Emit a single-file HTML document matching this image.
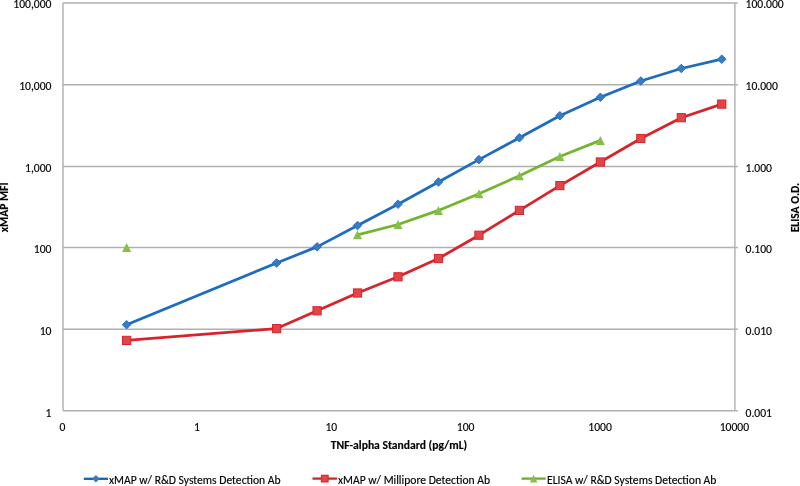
<!DOCTYPE html><html><head><meta charset="utf-8"><style>html,body{margin:0;padding:0;background:#fff}svg{display:block}text{font-family:Carlito,"Liberation Sans",sans-serif;fill:#000;stroke:#000;stroke-width:0.15px}</style></head><body>
<svg width="800" height="486" viewBox="0 0 800 486">
<rect width="800" height="486" fill="#fff"/>
<path d="M63 3.1H737.8M63 84.65H737.8M63 166.45H737.8M63 247.55H737.8M63 329.35H737.8M63 410.85H737.8" stroke="#b0b0b0" stroke-width="1.5" fill="none"/>
<path d="M63 3.1V410.85M734.9 3.1V410.85" stroke="#b0b0b0" stroke-width="1.4" fill="none"/>
<text x="51.5" y="417.15" font-size="11.6" text-anchor="end" textLength="5.89" lengthAdjust="spacingAndGlyphs">1</text>
<text x="745.5" y="417.15" font-size="11.6" textLength="26.44" lengthAdjust="spacingAndGlyphs">0.001</text>
<text x="51.5" y="335.28" font-size="11.6" text-anchor="end" textLength="11.77" lengthAdjust="spacingAndGlyphs">10</text>
<text x="745.5" y="335.28" font-size="11.6" textLength="26.44" lengthAdjust="spacingAndGlyphs">0.010</text>
<text x="51.5" y="253.41" font-size="11.6" text-anchor="end" textLength="17.64" lengthAdjust="spacingAndGlyphs">100</text>
<text x="745.5" y="253.41" font-size="11.6" textLength="26.44" lengthAdjust="spacingAndGlyphs">0.100</text>
<text x="51.5" y="171.54" font-size="11.6" text-anchor="end" textLength="26.41" lengthAdjust="spacingAndGlyphs">1,000</text>
<text x="745.5" y="171.54" font-size="11.6" textLength="26.44" lengthAdjust="spacingAndGlyphs">1.000</text>
<text x="51.5" y="89.67" font-size="11.6" text-anchor="end" textLength="32.28" lengthAdjust="spacingAndGlyphs">10,000</text>
<text x="745.5" y="89.67" font-size="11.6" textLength="32.31" lengthAdjust="spacingAndGlyphs">10.000</text>
<text x="51.5" y="7.8" font-size="11.6" text-anchor="end" textLength="38.16" lengthAdjust="spacingAndGlyphs">100,000</text>
<text x="745.5" y="7.8" font-size="11.6" textLength="38.19" lengthAdjust="spacingAndGlyphs">100.000</text>
<text x="62.5" y="430.7" font-size="11.6" text-anchor="middle" textLength="5.89" lengthAdjust="spacingAndGlyphs">0</text>
<text x="196.88" y="430.7" font-size="11.6" text-anchor="middle" textLength="5.89" lengthAdjust="spacingAndGlyphs">1</text>
<text x="331.26" y="430.7" font-size="11.6" text-anchor="middle" textLength="11.77" lengthAdjust="spacingAndGlyphs">10</text>
<text x="465.64" y="430.7" font-size="11.6" text-anchor="middle" textLength="17.64" lengthAdjust="spacingAndGlyphs">100</text>
<text x="600.02" y="430.7" font-size="11.6" text-anchor="middle" textLength="23.52" lengthAdjust="spacingAndGlyphs">1000</text>
<text x="734.4" y="430.7" font-size="11.6" text-anchor="middle" textLength="29.39" lengthAdjust="spacingAndGlyphs">10000</text>
<text x="399" y="448.7" font-size="11.6" font-weight="bold" text-anchor="middle" textLength="136.31" lengthAdjust="spacingAndGlyphs">TNF-alpha Standard (pg/mL)</text>
<text transform="translate(7.7 207.35) rotate(-90)" font-size="11.6" font-weight="bold" text-anchor="middle" textLength="49.83" lengthAdjust="spacingAndGlyphs">xMAP MFI</text>
<text transform="translate(799 207.6) rotate(-90)" font-size="11.6" font-weight="bold" text-anchor="middle" textLength="49.56" lengthAdjust="spacingAndGlyphs">ELISA O.D.</text>
<polyline points="357.53,234.8 398,224.5 438.47,210.4 478.94,193.7 519.41,175.8 559.88,156.5 600.35,140.4" fill="none" stroke="#74b42e" stroke-width="2.75" stroke-linejoin="round" stroke-linecap="round"/>
<polyline points="126.6,340.4 276.59,328.6 317.06,310.8 357.53,293 398,276.8 438.47,258.5 478.94,235.2 519.41,210.4 559.88,185.6 600.35,162 640.82,138.5 681.29,117.7 721.76,104.1" fill="none" stroke="#d9232a" stroke-width="2.75" stroke-linejoin="round" stroke-linecap="round"/>
<polyline points="126.6,324.7 276.59,263 317.06,246.85 357.53,225.5 398,204.2 438.47,182 478.94,159.6 519.41,137.8 559.88,115.7 600.35,97.3 640.82,81 681.29,68.5 721.76,59.2" fill="none" stroke="#1d6cbf" stroke-width="2.75" stroke-linejoin="round" stroke-linecap="round"/>
<path d="M357.53 230.3L362.03 239.3L353.03 239.3Z" fill="#86bf4a"/>
<path d="M398 220L402.5 229L393.5 229Z" fill="#86bf4a"/>
<path d="M438.47 205.9L442.97 214.9L433.97 214.9Z" fill="#86bf4a"/>
<path d="M478.94 189.2L483.44 198.2L474.44 198.2Z" fill="#86bf4a"/>
<path d="M519.41 171.3L523.91 180.3L514.91 180.3Z" fill="#86bf4a"/>
<path d="M559.88 152L564.38 161L555.38 161Z" fill="#86bf4a"/>
<path d="M600.35 135.9L604.85 144.9L595.85 144.9Z" fill="#86bf4a"/>
<path d="M126.6 243.1L131.1 252.1L122.1 252.1Z" fill="#86bf4a"/>
<rect x="122.5" y="336.3" width="8.2" height="8.2" fill="#e04548" stroke="#d9232a" stroke-width="1"/>
<rect x="272.49" y="324.5" width="8.2" height="8.2" fill="#e04548" stroke="#d9232a" stroke-width="1"/>
<rect x="312.96" y="306.7" width="8.2" height="8.2" fill="#e04548" stroke="#d9232a" stroke-width="1"/>
<rect x="353.43" y="288.9" width="8.2" height="8.2" fill="#e04548" stroke="#d9232a" stroke-width="1"/>
<rect x="393.9" y="272.7" width="8.2" height="8.2" fill="#e04548" stroke="#d9232a" stroke-width="1"/>
<rect x="434.37" y="254.4" width="8.2" height="8.2" fill="#e04548" stroke="#d9232a" stroke-width="1"/>
<rect x="474.84" y="231.1" width="8.2" height="8.2" fill="#e04548" stroke="#d9232a" stroke-width="1"/>
<rect x="515.31" y="206.3" width="8.2" height="8.2" fill="#e04548" stroke="#d9232a" stroke-width="1"/>
<rect x="555.78" y="181.5" width="8.2" height="8.2" fill="#e04548" stroke="#d9232a" stroke-width="1"/>
<rect x="596.25" y="157.9" width="8.2" height="8.2" fill="#e04548" stroke="#d9232a" stroke-width="1"/>
<rect x="636.72" y="134.4" width="8.2" height="8.2" fill="#e04548" stroke="#d9232a" stroke-width="1"/>
<rect x="677.19" y="113.6" width="8.2" height="8.2" fill="#e04548" stroke="#d9232a" stroke-width="1"/>
<rect x="717.66" y="100" width="8.2" height="8.2" fill="#e04548" stroke="#d9232a" stroke-width="1"/>
<path d="M126.6 320.4L130.9 324.7L126.6 329L122.3 324.7Z" fill="#377bc4" stroke="#1d6cbf" stroke-width="0.9" stroke-linejoin="round"/>
<path d="M276.59 258.7L280.89 263L276.59 267.3L272.29 263Z" fill="#377bc4" stroke="#1d6cbf" stroke-width="0.9" stroke-linejoin="round"/>
<path d="M317.06 242.55L321.36 246.85L317.06 251.15L312.76 246.85Z" fill="#377bc4" stroke="#1d6cbf" stroke-width="0.9" stroke-linejoin="round"/>
<path d="M357.53 221.2L361.83 225.5L357.53 229.8L353.23 225.5Z" fill="#377bc4" stroke="#1d6cbf" stroke-width="0.9" stroke-linejoin="round"/>
<path d="M398 199.9L402.3 204.2L398 208.5L393.7 204.2Z" fill="#377bc4" stroke="#1d6cbf" stroke-width="0.9" stroke-linejoin="round"/>
<path d="M438.47 177.7L442.77 182L438.47 186.3L434.17 182Z" fill="#377bc4" stroke="#1d6cbf" stroke-width="0.9" stroke-linejoin="round"/>
<path d="M478.94 155.3L483.24 159.6L478.94 163.9L474.64 159.6Z" fill="#377bc4" stroke="#1d6cbf" stroke-width="0.9" stroke-linejoin="round"/>
<path d="M519.41 133.5L523.71 137.8L519.41 142.1L515.11 137.8Z" fill="#377bc4" stroke="#1d6cbf" stroke-width="0.9" stroke-linejoin="round"/>
<path d="M559.88 111.4L564.18 115.7L559.88 120L555.58 115.7Z" fill="#377bc4" stroke="#1d6cbf" stroke-width="0.9" stroke-linejoin="round"/>
<path d="M600.35 93L604.65 97.3L600.35 101.6L596.05 97.3Z" fill="#377bc4" stroke="#1d6cbf" stroke-width="0.9" stroke-linejoin="round"/>
<path d="M640.82 76.7L645.12 81L640.82 85.3L636.52 81Z" fill="#377bc4" stroke="#1d6cbf" stroke-width="0.9" stroke-linejoin="round"/>
<path d="M681.29 64.2L685.59 68.5L681.29 72.8L676.99 68.5Z" fill="#377bc4" stroke="#1d6cbf" stroke-width="0.9" stroke-linejoin="round"/>
<path d="M721.76 54.9L726.06 59.2L721.76 63.5L717.46 59.2Z" fill="#377bc4" stroke="#1d6cbf" stroke-width="0.9" stroke-linejoin="round"/>
<path d="M83.8 478.8H108" stroke="#0f63b8" stroke-width="2.3"/><path d="M95.9 475L99.7 478.8L95.9 482.6L92.1 478.8Z" fill="#377bc4"/><text x="109" y="483.5" font-size="11.6" textLength="171.62" lengthAdjust="spacingAndGlyphs">xMAP w/ R&amp;D Systems Detection Ab</text>
<path d="M312.5 478.6H337" stroke="#d9232a" stroke-width="2.3"/><rect x="321.35" y="475.2" width="6.8" height="6.8" fill="#e04548" stroke="#d9232a" stroke-width="1"/><text x="338" y="483.5" font-size="11.6" textLength="152.05" lengthAdjust="spacingAndGlyphs">xMAP w/ Millipore Detection Ab</text>
<path d="M521.5 478.6H545.75" stroke="#6fae24" stroke-width="2.3"/><path d="M533.62 474.8L537.42 482.4L529.83 482.4Z" fill="#86bf4a"/><text x="547" y="483.5" font-size="11.6" textLength="169.41" lengthAdjust="spacingAndGlyphs">ELISA w/ R&amp;D Systems Detection Ab</text>
</svg></body></html>
